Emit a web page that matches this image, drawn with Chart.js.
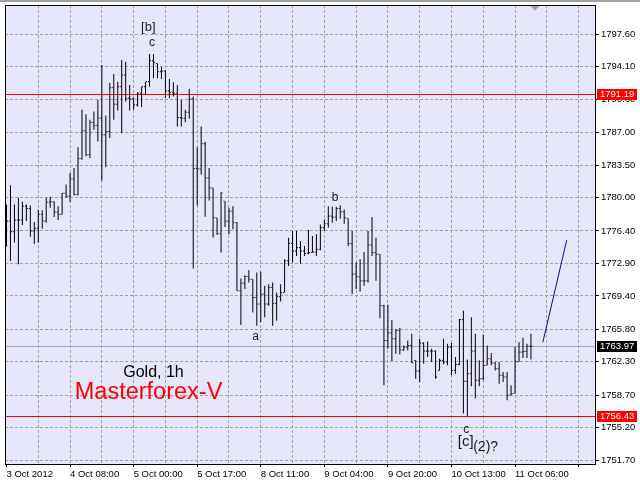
<!DOCTYPE html>
<html lang="en">
<head>
<meta charset="UTF-8">
<title>Gold, 1h</title>
<script src="https://cdn.jsdelivr.net/npm/chart.js"></script>
<style>
    body { margin: 0; background: #fff; }
    #wrap { width: 640px; height: 480px; }
</style>
</head>
<body>
<div id="wrap"><canvas id="goldChart" width="640" height="480"></canvas></div>
<script>
// hourly bars, x value = bar number (bar 0 = 3 Oct 2012 16:00)
const timeLabels = ['3 Oct 2012', '4 Oct 08:00', '5 Oct 00:00', '5 Oct 17:00', '8 Oct 11:00',
                    '9 Oct 04:00', '9 Oct 20:00', '10 Oct 13:00', '11 Oct 06:00'];
const priceTicks = [1797.60, 1794.10, 1790.60, 1787.00, 1783.50, 1780.00, 1776.40,
                    1772.90, 1769.40, 1765.80, 1762.30, 1758.70, 1755.20, 1751.70];

const opens = [
    1776.50, 1777.46, 1776.32, 1777.57, 1777.57, 1779.07, 1778.82, 1776.39, 1776.68, 1778.18,
    1777.46, 1779.50, 1779.54, 1778.43, 1778.18, 1780.47, 1780.15, 1782.01, 1780.33, 1784.19,
    1787.19, 1784.62, 1788.09, 1787.77, 1788.55, 1786.76, 1787.12, 1791.84, 1790.06, 1791.95,
    1793.20, 1790.70, 1790.63, 1789.98, 1791.24, 1791.95, 1792.49, 1794.74, 1794.45, 1793.56,
    1793.63, 1791.49, 1791.34, 1791.24, 1788.62, 1788.55, 1789.20, 1790.63, 1783.12, 1783.08,
    1785.80, 1782.11, 1781.04, 1777.82, 1776.10, 1779.61, 1777.46, 1778.54, 1777.29, 1769.95,
    1770.77, 1771.49, 1771.20, 1769.23, 1768.52, 1769.59, 1768.52, 1770.31, 1768.59, 1769.31,
    1769.77, 1773.17, 1775.06, 1774.24, 1774.60, 1774.24, 1773.99, 1774.06, 1774.13, 1774.42,
    1776.75, 1777.17, 1778.00, 1777.89, 1778.82, 1778.46, 1777.75, 1775.03, 1771.74, 1771.45,
    1771.02, 1771.02, 1774.89, 1774.06, 1773.88, 1768.34, 1764.59, 1765.41, 1764.77, 1765.66,
    1763.59, 1763.88, 1764.05, 1762.45, 1761.30, 1764.31, 1763.45, 1763.45, 1763.45, 1761.37,
    1762.45, 1762.27, 1763.88, 1761.37, 1762.02, 1766.84, 1760.19, 1761.01, 1763.45, 1760.30,
    1760.48, 1761.91, 1762.62, 1762.16, 1761.55, 1760.84, 1760.66, 1758.69, 1758.87, 1762.27,
    1763.34, 1763.41, 1763.98
];
const highs = [
    1779.25, 1781.33, 1779.25, 1779.97, 1779.54, 1779.25, 1779.15, 1777.36, 1778.68, 1778.64,
    1779.97, 1780.08, 1779.61, 1779.07, 1780.50, 1781.40, 1782.65, 1783.19, 1785.41, 1789.45,
    1788.98, 1788.37, 1789.27, 1790.52, 1794.28, 1788.84, 1792.38, 1793.31, 1792.49, 1794.81,
    1794.63, 1792.13, 1790.77, 1791.34, 1791.95, 1792.49, 1795.46, 1795.46, 1794.45, 1794.10,
    1793.74, 1792.77, 1792.42, 1792.13, 1790.52, 1789.45, 1791.70, 1790.88, 1785.41, 1787.66,
    1785.98, 1783.19, 1781.04, 1777.82, 1780.58, 1779.61, 1778.89, 1779.07, 1777.36, 1771.28,
    1771.63, 1772.17, 1771.20, 1771.92, 1771.99, 1770.49, 1770.66, 1770.84, 1769.77, 1770.66,
    1773.35, 1775.67, 1776.39, 1776.39, 1775.31, 1774.78, 1776.49, 1775.85, 1776.03, 1777.10,
    1777.64, 1779.07, 1779.00, 1779.00, 1779.18, 1778.71, 1777.75, 1776.39, 1772.99, 1773.35,
    1774.13, 1776.39, 1777.89, 1775.67, 1773.88, 1768.45, 1768.45, 1766.81, 1765.84, 1765.95,
    1764.05, 1764.59, 1765.31, 1762.45, 1764.77, 1764.41, 1764.48, 1763.70, 1763.52, 1762.62,
    1764.77, 1764.23, 1764.31, 1762.80, 1766.92, 1767.81, 1762.55, 1767.10, 1765.31, 1762.45,
    1765.20, 1764.05, 1763.23, 1762.27, 1762.27, 1761.19, 1761.19, 1759.76, 1763.88, 1764.41,
    1764.88, 1764.23, 1765.31
];
const lows = [
    1774.71, 1773.17, 1775.14, 1772.81, 1777.03, 1777.46, 1775.78, 1775.03, 1775.14, 1776.64,
    1777.29, 1778.89, 1777.89, 1777.57, 1778.18, 1779.97, 1779.54, 1780.22, 1780.22, 1784.08,
    1784.44, 1784.26, 1787.30, 1786.05, 1781.83, 1783.26, 1786.41, 1788.37, 1789.38, 1786.94,
    1790.34, 1789.38, 1789.45, 1789.80, 1789.73, 1791.06, 1791.95, 1792.85, 1792.85, 1792.77,
    1790.70, 1790.70, 1790.88, 1787.66, 1787.66, 1788.12, 1788.48, 1772.35, 1779.15, 1782.47,
    1777.93, 1779.68, 1775.68, 1775.96, 1774.07, 1776.82, 1776.03, 1776.57, 1769.95, 1766.27,
    1770.13, 1770.85, 1767.62, 1766.19, 1766.55, 1767.09, 1768.34, 1766.19, 1766.73, 1768.80,
    1769.77, 1772.63, 1772.99, 1773.70, 1772.88, 1773.70, 1773.88, 1774.06, 1773.70, 1774.31,
    1776.39, 1776.75, 1777.28, 1777.46, 1777.71, 1777.17, 1774.78, 1769.59, 1770.13, 1769.88,
    1770.49, 1770.84, 1773.70, 1771.02, 1766.98, 1759.76, 1763.70, 1762.37, 1763.16, 1763.09,
    1763.45, 1763.52, 1762.16, 1760.48, 1760.12, 1762.09, 1762.80, 1762.27, 1760.48, 1761.37,
    1762.02, 1761.91, 1760.84, 1761.01, 1761.91, 1756.72, 1756.43, 1759.66, 1758.33, 1759.66,
    1760.30, 1761.91, 1761.91, 1761.37, 1759.94, 1760.12, 1758.15, 1758.69, 1758.87, 1762.27,
    1762.70, 1762.70, 1762.55
];
const closes = [
    1777.46, 1776.32, 1777.57, 1777.57, 1779.07, 1778.82, 1776.39, 1776.68, 1778.18, 1777.46,
    1779.50, 1779.54, 1778.43, 1778.18, 1780.47, 1780.15, 1782.01, 1780.33, 1784.19, 1787.19,
    1784.62, 1788.09, 1787.77, 1788.55, 1786.76, 1787.12, 1791.84, 1790.06, 1791.95, 1793.20,
    1790.70, 1790.63, 1789.98, 1791.24, 1791.95, 1792.49, 1794.74, 1794.56, 1793.56, 1793.63,
    1791.49, 1791.34, 1791.24, 1788.62, 1788.55, 1789.20, 1790.63, 1783.12, 1783.08, 1785.80,
    1782.11, 1781.04, 1777.82, 1776.10, 1780.50, 1777.46, 1778.54, 1777.29, 1769.95, 1770.77,
    1771.49, 1771.20, 1769.23, 1768.52, 1769.59, 1768.52, 1770.31, 1768.59, 1769.31, 1769.77,
    1773.17, 1775.06, 1774.24, 1774.60, 1774.24, 1773.99, 1774.06, 1774.13, 1774.42, 1776.75,
    1777.17, 1778.00, 1777.89, 1778.82, 1778.46, 1777.82, 1775.03, 1771.74, 1771.45, 1771.02,
    1771.02, 1774.89, 1774.06, 1773.88, 1768.34, 1764.59, 1765.41, 1764.77, 1765.66, 1763.59,
    1763.88, 1764.05, 1762.19, 1761.30, 1764.31, 1763.45, 1763.45, 1763.45, 1760.66, 1762.45,
    1762.27, 1763.88, 1761.37, 1762.02, 1766.84, 1760.19, 1761.01, 1763.45, 1760.30, 1760.48,
    1761.91, 1762.62, 1762.16, 1761.55, 1760.84, 1760.66, 1758.69, 1758.87, 1762.34, 1763.34,
    1763.41, 1763.98, 1763.97
];

// horizontal levels: resistance, last price, support
const levelPrices = [1791.19, 1763.97, 1756.43];
// hand-drawn forecast line
const forecastBars = [135, 141];
const forecastPrices = [1764.4, 1775.4];

// ---- chart setup ----
const FONT = "'Liberation Sans', Arial, sans-serif";
const AXIS_SIZE = 9.5;
const levelStyle = [
    { line: '#ff0000', tag: '#ff0000' },
    { line: '#a8a8a8', tag: '#000000' },
    { line: '#ff0000', tag: '#ff0000' }
];
const notes = [
    { text: '[b]', x: 35.7, y: 1798.3, size: 13, color: '#1a1a1a' },
    { text: 'c', x: 36.6, y: 1796.7, size: 12, color: '#1a1a1a' },
    { text: 'a', x: 62.7, y: 1765.0, size: 12, color: '#1a1a1a' },
    { text: 'b', x: 82.7, y: 1780.0, size: 12, color: '#1a1a1a' },
    { text: 'c', x: 115.7, y: 1755.0, size: 12, color: '#1a1a1a' },
    { text: '[c]', x: 115.6, y: 1753.7, size: 15, color: '#1a1a1a' },
    { text: '(2)?', x: 120.6, y: 1753.1, size: 14, color: '#1a1a1a' },
    { text: 'Gold, 1h', x: 37.0, y: 1761.15, size: 16, color: '#000000' },
    { text: 'Masterforex-V', x: 35.75, y: 1759.0, size: 23.5, color: '#ff0000' }
];

const bars = highs.map((h, i) => i);
const rangeData = bars.map(i => ({ x: i, y: [lows[i], highs[i]] }));
const openData = bars.map(i => ({ x: i - 0.25, y: opens[i] }));
const closeData = bars.map(i => ({ x: i + 0.25, y: closes[i] }));
const forecastData = forecastBars.map((b, i) => ({ x: b, y: forecastPrices[i] }));
const gridBars = [];
for (let b = 0; b <= 144; b += 8) gridBars.push(b);

const terminalLook = {
    id: 'terminalLook',
    beforeDraw(chart) {
        const { ctx, chartArea: a } = chart;
        ctx.save();
        ctx.fillStyle = '#ffffff';
        ctx.fillRect(0, 0, chart.width, chart.height);
        ctx.fillStyle = '#a0a0a0';
        ctx.fillRect(0, 0, chart.width, 2);
        ctx.fillStyle = '#e6e6fa';
        ctx.fillRect(a.left, a.top, a.right - a.left, a.bottom - a.top);
        ctx.restore();
    },
    beforeDatasetsDraw(chart) {
        const { ctx, chartArea: a, scales } = chart;
        ctx.save();
        levelPrices.forEach((p, i) => {
            const y = Math.round(scales.y.getPixelForValue(p)) + 0.5;
            ctx.strokeStyle = levelStyle[i].line;
            ctx.lineWidth = 1;
            ctx.beginPath();
            ctx.moveTo(a.left, y);
            ctx.lineTo(a.right, y);
            ctx.stroke();
        });
        ctx.restore();
    },
    afterDraw(chart) {
        const { ctx, chartArea: a, scales } = chart;
        ctx.save();
        // frame
        ctx.strokeStyle = '#000';
        ctx.lineWidth = 1;
        ctx.strokeRect(a.left + 0.5, a.top + 0.5, a.right - a.left, a.bottom - a.top);
        // price tags on the axis
        ctx.font = AXIS_SIZE + 'px ' + FONT;
        ctx.textBaseline = 'middle';
        ctx.textAlign = 'left';
        levelPrices.forEach((p, i) => {
            const y = Math.round(scales.y.getPixelForValue(p));
            ctx.fillStyle = levelStyle[i].tag;
            ctx.fillRect(a.right + 2, y - 5, 40, 11);
            ctx.fillStyle = '#fff';
            ctx.fillText(p.toFixed(2), a.right + 5, y + 0.5);
        });
        // chart shift marker
        const mx = scales.x.getPixelForValue(133);
        ctx.fillStyle = '#a0a0a0';
        ctx.beginPath();
        ctx.moveTo(mx - 4.5, a.top + 1);
        ctx.lineTo(mx + 4.5, a.top + 1);
        ctx.lineTo(mx, a.top + 5.5);
        ctx.closePath();
        ctx.fill();
        // wave labels and captions
        ctx.textAlign = 'center';
        notes.forEach(n => {
            ctx.font = n.size + 'px ' + FONT;
            ctx.fillStyle = n.color;
            ctx.fillText(n.text, scales.x.getPixelForValue(n.x), scales.y.getPixelForValue(n.y));
        });
        ctx.restore();
    }
};

new Chart(document.getElementById('goldChart'), {
    type: 'bar',
    data: {
        datasets: [
            {
                type: 'bar',
                data: rangeData,
                backgroundColor: '#000',
                borderWidth: 0,
                barThickness: 1,
                inflateAmount: 0,
                grouped: false
            },
            {
                type: 'scatter',
                data: openData,
                pointStyle: 'line',
                pointRadius: 0.5,
                borderColor: '#000',
                pointBorderColor: '#000',
                pointBorderWidth: 1,
                borderWidth: 1
            },
            {
                type: 'scatter',
                data: closeData,
                pointStyle: 'line',
                pointRadius: 0.5,
                borderColor: '#000',
                pointBorderColor: '#000',
                pointBorderWidth: 1,
                borderWidth: 1
            },
            {
                type: 'line',
                data: forecastData,
                borderColor: '#0a0aa0',
                borderWidth: 1,
                pointRadius: 0,
                fill: false
            }
        ]
    },
    options: {
        responsive: false,
        animation: false,
        events: [],
        layout: { padding: { top: 3, left: 1, right: 0, bottom: 0 } },
        plugins: {
            legend: { display: false },
            tooltip: { enabled: false }
        },
        scales: {
            x: {
                type: 'linear',
                min: -0.375,
                max: 148.125,
                offset: false,
                afterBuildTicks: s => { s.ticks = gridBars.map(v => ({ value: v })); },
                afterFit: s => { s.height = 16; s.paddingLeft = 0; s.paddingRight = 0; },
                grid: {
                    offset: false,
                    lineWidth: 1,
                    color: c => (c.tick && c.tick.value === 0) ? 'rgba(0,0,0,0)' : '#a0a0a0',
                    tickLength: 3,
                    tickColor: c => (c.tick && c.tick.value % 16 === 0) ? '#000' : 'rgba(0,0,0,0)'
                },
                border: { display: false, dash: [3, 2] },
                ticks: {
                    autoSkip: false,
                    maxRotation: 0,
                    align: 'start',
                    padding: 2,
                    color: '#000',
                    font: { family: FONT, size: AXIS_SIZE },
                    callback: v => (v % 16 === 0 && timeLabels[v / 16]) ? timeLabels[v / 16] : ''
                }
            },
            y: {
                position: 'right',
                min: 1751.28,
                max: 1800.75,
                beginAtZero: false,
                afterBuildTicks: s => { s.ticks = priceTicks.map(v => ({ value: v })); },
                afterFit: s => { s.width = 45; s.paddingTop = 0; s.paddingBottom = 0; },
                grid: {
                    lineWidth: 1,
                    color: '#a0a0a0',
                    tickLength: 4,
                    tickColor: '#000'
                },
                border: { display: false, dash: [3, 2] },
                ticks: {
                    padding: 2,
                    color: '#000',
                    font: { family: FONT, size: AXIS_SIZE },
                    callback: v => Number(v).toFixed(2)
                }
            }
        }
    },
    plugins: [terminalLook]
});
</script>
</body>
</html>
